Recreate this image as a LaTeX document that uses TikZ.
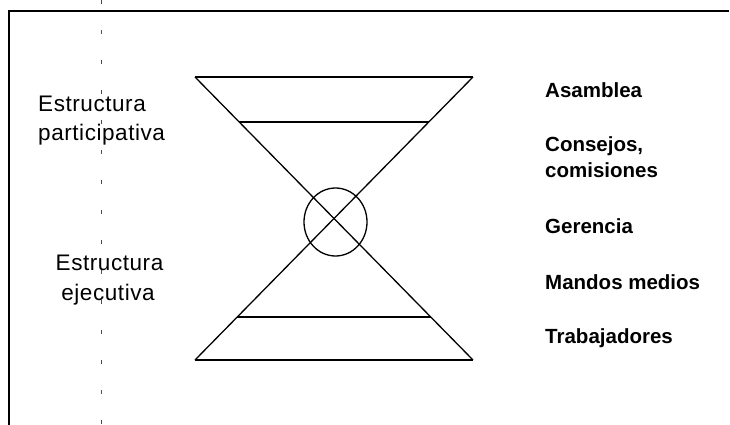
\documentclass[tikz,border=0pt]{standalone}
\usepackage{fontspec}
\setmainfont{Liberation Sans}
\usetikzlibrary{shapes.geometric}
\begin{document}
\begin{tikzpicture}[x=1pt,y=-1pt,
  frame/.style={line width=1.8pt},
  shapeline/.style={line width=1.3pt},
  guide/.style={line width=0.9pt,gray!60!black,dash pattern=on 4pt off 26pt},
  leftlbl/.style={inner sep=0pt,font=\fontsize{22.5}{26}\selectfont\addfontfeature{LetterSpace=2.5}},
  rightlbl/.style={inner sep=0pt,anchor=base west,font=\fontsize{20.5}{24}\selectfont\bfseries}]
\useasboundingbox (0,0) rectangle (730,425);
% frame
\coordinate (fTR) at (729,11);
\coordinate (fTL) at (9,11);
\coordinate (fBL) at (9,425);
\draw[frame] (fTR) -- (fTL) -- (fBL);
% faint guide
\coordinate (gT) at (101,0);
\coordinate (gB) at (101,425);
\draw[guide] (gT) -- (gB);
% hourglass
\coordinate (TL) at (195,77);
\coordinate (TR) at (473,77);
\coordinate (BL) at (195,360);
\coordinate (BR) at (473,360);
\coordinate (t1L) at (239.2,122);
\coordinate (t1R) at (428.8,122);
\coordinate (b1L) at (237.2,317);
\coordinate (b1R) at (430.8,317);
\draw[shapeline] (TL) -- (TR);
\draw[shapeline] (BL) -- (BR);
\draw[shapeline] (TL) -- (BR);
\draw[shapeline] (TR) -- (BL);
\draw[shapeline] (t1L) -- (t1R);
\draw[shapeline] (b1L) -- (b1R);
\node[shapeline,draw,ellipse,minimum width=63pt,minimum height=68pt,inner sep=0pt] (ring) at (335.5,222) {};
% left labels
\node[leftlbl,anchor=base west] (ep1) at (38,111) {Estructura};
\node[leftlbl,anchor=base west] (ep2) at (38,140) {participativa};
\node[leftlbl,anchor=base] (ee1) at (109.5,270) {Estructura};
\node[leftlbl,anchor=base] (ee2) at (108,300) {ejecutiva};
% right labels
\node[rightlbl] (asam) at (545,97.5) {Asamblea};
\node[rightlbl] (cons1) at (545,151.5) {Consejos,};
\node[rightlbl] (cons2) at (545,177) {comisiones};
\node[rightlbl] (ger) at (545,233) {Gerencia};
\node[rightlbl] (mand) at (545,289) {Mandos medios};
\node[rightlbl] (trab) at (545,343) {Trabajadores};
\end{tikzpicture}
\end{document}
